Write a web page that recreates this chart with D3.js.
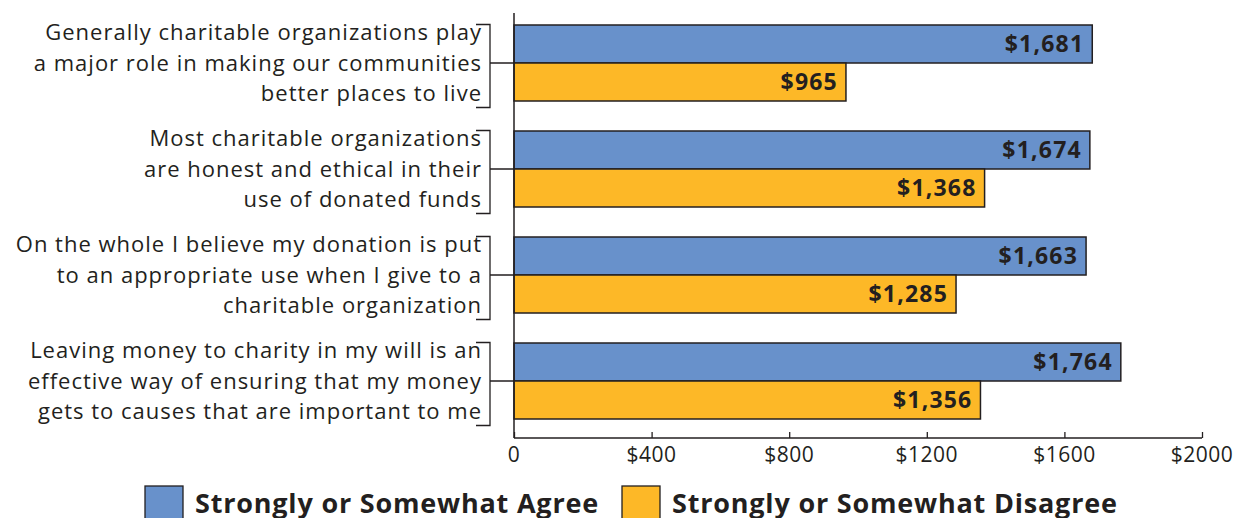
<!DOCTYPE html>
<html>
<head>
<meta charset="utf-8">
<script src="https://cdn.jsdelivr.net/npm/d3@7"></script>
<style>
  body { margin: 0; background: #fff; }
  svg { display: block; font-family: "Open Sans", "Noto Sans", sans-serif; }
</style>
</head>
<body>
<svg id="chart" width="1243" height="518"></svg>
<script>
// statements (y categories), each split into display lines
const statements = [
    ["Generally charitable organizations play", "a major role in making our communities", "better places to live"],
    ["Most charitable organizations", "are honest and ethical in their", "use of donated funds"],
    ["On the whole I believe my donation is put", "to an appropriate use when I give to a", "charitable organization"],
    ["Leaving money to charity in my will is an", "effective way of ensuring that my money", "gets to causes that are important to me"]
];
const seriesNames = ["Strongly or Somewhat Agree", "Strongly or Somewhat Disagree"];
const agreeValues = [1681, 1674, 1663, 1764];
const disagreeValues = [965, 1368, 1285, 1356];
const xTicks = [0, 400, 800, 1200, 1600, 2000];
const colors = ["#6891cb", "#fdb827"];

const svg = d3.select('#chart');
const plotLeft = 514, plotRight = 1202, plotTop = 13, plotBottom = 438;

const x = d3.scaleLinear().domain([0, 2000]).range([plotLeft, plotRight]);
const y = d3.scaleBand()
    .domain(d3.range(statements.length))
    .range([25, 419])
    .paddingInner(30 / 106)
    .paddingOuter(0);
const sub = d3.scaleBand().domain([0, 1]).range([0, y.bandwidth()]);

const rows = statements.map((s, i) => ({ i, lines: s, vals: [agreeValues[i], disagreeValues[i]] }));

// bars
const groups = svg.append('g').selectAll('g')
    .data(rows).enter().append('g')
    .attr('transform', d => `translate(0,${y(d.i)})`);

groups.selectAll('rect')
    .data(d => d.vals.map((v, k) => ({ v, k })))
    .enter().append('rect')
    .attr('x', x(0))
    .attr('y', d => sub(d.k))
    .attr('width', d => x(d.v) - x(0))
    .attr('height', sub.bandwidth())
    .attr('fill', d => colors[d.k])
    .attr('stroke', '#231f20')
    .attr('stroke-width', 1.5);

groups.selectAll('text.val')
    .data(d => d.vals.map((v, k) => ({ v, k })))
    .enter().append('text')
    .attr('class', 'val')
    .attr('x', d => x(d.v) - 8)
    .attr('y', d => sub(d.k) + sub.bandwidth() / 2)
    .attr('dy', '0.36em')
    .attr('text-anchor', 'end')
    .attr('font-size', 23)
    .attr('letter-spacing', 1.2)
    .attr('font-weight', 'bold')
    .attr('fill', '#231f20')
    .text(d => '$' + d3.format(',')(d.v));

// category labels with brackets
const lab = svg.append('g').selectAll('g')
    .data(rows).enter().append('g')
    .attr('transform', d => `translate(0,${y(d.i) + y.bandwidth() / 2})`);

lab.append('text')
    .attr('text-anchor', 'end')
    .attr('font-size', 22)
    .attr('letter-spacing', 1)
    .attr('fill', '#231f20')
    .selectAll('tspan')
    .data(d => d.lines)
    .enter().append('tspan')
    .attr('x', 482)
    .attr('y', (d, j) => (j - 1) * 30.5)
    .attr('dy', '0.36em')
    .text(d => d);

lab.append('path')
    .attr('d', 'M476,-38.5H490V44.5H476M490,0H514')
    .attr('fill', 'none')
    .attr('stroke', '#231f20')
    .attr('stroke-width', 1.3);

// axes
svg.append('line')
    .attr('x1', plotLeft).attr('x2', plotLeft)
    .attr('y1', plotTop).attr('y2', plotBottom)
    .attr('stroke', '#231f20').attr('stroke-width', 1.5);

const xAxis = d3.axisTop(x).tickValues(xTicks).tickSize(6).tickFormat(() => '');
const ax = svg.append('g')
    .attr('transform', `translate(0,${plotBottom})`)
    .call(xAxis);
ax.select('.domain').attr('d', `M${plotLeft},0H${plotRight}`).attr('stroke', '#231f20').attr('stroke-width', 1.5);
ax.selectAll('.tick line').attr('stroke', '#231f20').attr('stroke-width', 1.3);

svg.append('g').selectAll('text')
    .data(xTicks).enter().append('text')
    .attr('x', d => x(d))
    .attr('y', 462)
    .attr('text-anchor', 'middle')
    .attr('font-size', 21)
    .attr('letter-spacing', 0.5)
    .attr('fill', '#231f20')
    .text(d => d === 0 ? '0' : '$' + d);

// legend
const legendX = [145, 622];
const leg = svg.append('g').selectAll('g')
    .data(seriesNames).enter().append('g')
    .attr('transform', (d, i) => `translate(${legendX[i]},486)`);
leg.append('rect')
    .attr('width', 38).attr('height', 38)
    .attr('fill', (d, i) => colors[i])
    .attr('stroke', '#231f20').attr('stroke-width', 1.3);
leg.append('text')
    .attr('x', 50).attr('y', 27)
    .attr('font-size', 27)
    .attr('letter-spacing', 0.8)
    .attr('font-weight', 'bold')
    .attr('fill', '#231f20')
    .text(d => d);
</script>
</body>
</html>
